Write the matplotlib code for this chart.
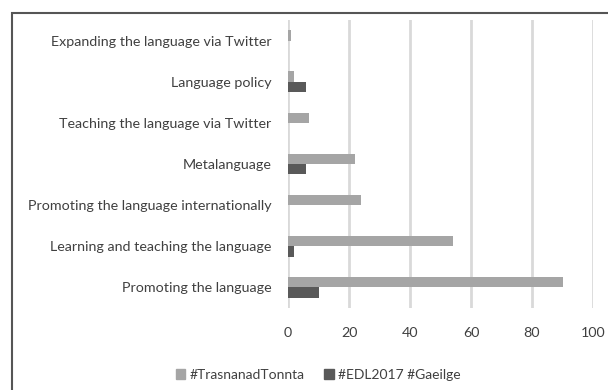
import matplotlib
matplotlib.use("Agg")
import matplotlib.pyplot as plt
import numpy as np
from matplotlib.patches import Rectangle

categories = [
    "Promoting the language",
    "Learning and teaching the language",
    "Promoting the language internationally",
    "Metalanguage",
    "Teaching the language via Twitter",
    "Language policy",
    "Expanding the language via Twitter",
]
trasna = [90, 54, 24, 22, 7, 2, 1]
edl = [10, 2, 0, 6, 0, 6, 0]
series_names = ["#TrasnanadTonnta", "#EDL2017 #Gaeilge"]
xticks = [0, 20, 40, 60, 80, 100]

plt.rcParams["font.family"] = ["Lato", "DejaVu Sans"]
text_color = "#404040"
light = "#A5A5A5"
dark = "#595959"

fig = plt.figure(figsize=(6.08, 3.90), dpi=100)
ax = fig.add_axes([288 / 608, 1 - 308 / 390, 305 / 608, 288 / 390])

y = np.arange(len(categories))
h = 0.25
ax.barh(y + h / 2, trasna, height=h, color=light, label=series_names[0], zorder=3)
ax.barh(y - h / 2, edl, height=h, color=dark, label=series_names[1], zorder=3)

ax.set_xlim(0, 100)
ax.set_ylim(-0.5, len(categories) - 0.5)
ax.set_xticks(xticks)
ax.set_xticklabels([str(t) for t in xticks], fontsize=10.3, color=text_color)
ax.set_yticks(y)
ax.set_yticklabels(categories, fontsize=10.3, color=text_color)
ax.tick_params(axis="both", length=0)
ax.tick_params(axis="x", pad=14)
ax.tick_params(axis="y", pad=12)
ax.xaxis.grid(True, color="#D9D9D9", linewidth=2, zorder=0)
for s in ax.spines.values():
    s.set_visible(False)

# outer chart frame
frame = Rectangle((12 / 608, -0.1), 1.2, 1 - 13 / 390 + 0.1, transform=fig.transFigure,
                  fill=False, edgecolor="#555555", linewidth=1.5)
fig.patches.append(frame)

handles = [Rectangle((0, 0), 1, 1, color=light), Rectangle((0, 0), 1, 1, color=dark)]
fig.legend(handles, series_names, loc="center", bbox_to_anchor=(318 / 608, 1 - 375 / 390),
           ncol=2, frameon=False, fontsize=10, handlelength=0.7, handleheight=0.7,
           handletextpad=0.3, columnspacing=1.4, labelcolor=text_color)

fig.savefig("out.png", dpi=100)
